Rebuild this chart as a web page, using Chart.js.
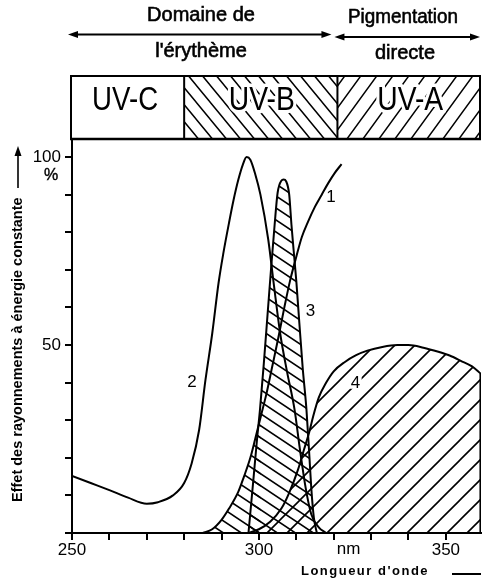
<!DOCTYPE html>
<html><head><meta charset="utf-8">
<script src="https://cdn.jsdelivr.net/npm/chart.js@4/dist/chart.umd.min.js"></script>
<style>html,body{margin:0;padding:0;background:#fff}</style>
</head><body>
<canvas id="c" width="482" height="580"></canvas>
<script>
// ---------- data ----------
const xMin = 250, xMax = 359.4, yMin = 0, yMax = 104.8;
const xTicks = [250,260,270,280,290,300,310,320,330,340,350];
const xTickLabels = {250:'250', 300:'300', 350:'350'};
const yTicks = [0,10,20,30,40,50,60,70,80,90,100];
const yTickLabels = {50:'50', 100:'100'};

// Curve 1
const curve1X = [285,287.5,290,292,294.5,296,297.7,299,300.5,302,303.5,305.2,306.8,308.3,310,311.5,313,315,316.8,318.5,320.3,322.1];
const curve1Y = [0,1,3.5,6.5,11,15,20,25,31,37,44,52,60,67,73.5,78.8,82.5,86.8,90,93,95.8,98.1];
const curve1HatchEnd = 300.5;

// Curve 2
const curve2X = [250,255,260,265,270,273,277,280,282,284,285.7,287.5,289.2,290.5,292,293.2,294.5,295.7,296.7,297.7,299,300.4,302.5,304,305.7,307.5,309.5,311,312.5,314,316,318];
const curve2Y = [15.2,13.3,11.4,9.4,7.8,8.2,10,13.3,18.5,27.4,40.7,53,66.5,74.5,82.5,88.5,94,98,100,99.3,95.5,90,78,66,53,43,33,22,12,5,1.5,0];

// Curve 3
const curve3X = [297.2,298.5,299.5,300.3,301.3,302.3,303.3,304.2,305,306,306.6,307.3,308.1,308.7,309.3,310,310.8,311.7,312.7,313.4,314,314.7,315.5];
const curve3Y = [0,14,25,33,45,58,71,82,90.5,93.7,94,93.5,90,82,75,67,56,44,33,22,12,4,0];

// Curve 4
const curve4X = [297,300,303,306,308,310.5,312,313.5,314.5,316,318,320,323,326,329,333,337,340,344,348,351,354,357,359.4];
const curve4Y = [0,1,3,6.5,10.5,17,22,27,31,36,40,43,45.5,47.3,48.5,49.5,50,50,49.3,48.2,47.2,45.8,44.3,42.3];
const curve4EdgeX = [359.25, 359.25];
const curve4EdgeY = [42.3, 0];

// curve number labels
const curveLabels = ['1','2','3','4'];
const curveLabelX = [319.3, 282.1, 313.8, 325.8];
const curveLabelY = [89.4, 40.2, 58.9, 39.8];

// header bands
const bandLabels = ['UV-C','UV-B','UV-A'];
const bandEdges = [250, 280, 321, 359.4];

// ---------- helpers ----------
function pts(xs, ys){ return xs.map((x,i)=>({x, y: ys[i]})); }
function makeHatch(w, h, dir, lw){
  const c = document.createElement('canvas'); c.width = w; c.height = h;
  const g = c.getContext('2d');
  g.strokeStyle = '#000'; g.lineWidth = lw;
  g.beginPath();
  for (const dx of [-w, 0, w]) {
    if (dir === 'back') { g.moveTo(dx - w, -h); g.lineTo(dx + 2*w, 2*h); }
    else { g.moveTo(dx - w, 2*h); g.lineTo(dx + 2*w, -h); }
  }
  g.stroke();
  return g.createPattern(c, 'repeat');
}
const hatch3 = makeHatch(18, 12, 'back', 1.6);
const hatch4 = makeHatch(20, 20, 'fwd', 1.6);
const hatchUVB = makeHatch(14, 17, 'back', 1.5);
const hatchUVA = makeHatch(16, 22, 'fwd', 1.5);

const FONT = "'Liberation Sans', Arial, sans-serif";

function arrow(ctx, x1, x2, y){
  ctx.beginPath(); ctx.moveTo(x1+6, y); ctx.lineTo(x2-6, y); ctx.stroke();
  ctx.beginPath(); ctx.moveTo(x1, y); ctx.lineTo(x1+10, y-3.5); ctx.lineTo(x1+10, y+3.5); ctx.closePath(); ctx.fill();
  ctx.beginPath(); ctx.moveTo(x2, y); ctx.lineTo(x2-10, y-3.5); ctx.lineTo(x2-10, y+3.5); ctx.closePath(); ctx.fill();
}
function haloText(ctx, t, x, y, w){
  ctx.save(); ctx.strokeStyle = '#fff'; ctx.lineWidth = 7; ctx.lineJoin = 'round';
  if (w) ctx.strokeText(t, x, y, w); else ctx.strokeText(t, x, y);
  ctx.restore();
  if (w) ctx.fillText(t, x, y, w); else ctx.fillText(t, x, y);
}

const decor = {
  id: 'decor',
  afterDraw(chart){
    const {ctx, chartArea: a, scales: {x, y}} = chart;
    ctx.save();
    ctx.fillStyle = '#000'; ctx.strokeStyle = '#000';
    // header box
    const top = 76, bot = a.top;
    const xb = bandEdges.map(v => x.getPixelForValue(v));
    ctx.fillStyle = hatchUVB; ctx.fillRect(xb[1], top, xb[2]-xb[1], bot-top);
    ctx.fillStyle = hatchUVA; ctx.fillRect(xb[2], top, xb[3]-xb[2], bot-top);
    ctx.fillStyle = '#000';
    ctx.lineWidth = 2;
    ctx.strokeRect(xb[0]-1, top, xb[3]-xb[0], bot-top);
    ctx.lineWidth = 2.5;
    ctx.beginPath(); ctx.moveTo(xb[0]-2, bot); ctx.lineTo(xb[3], bot); ctx.stroke();
    ctx.lineWidth = 2;
    ctx.beginPath();
    ctx.moveTo(xb[1], top); ctx.lineTo(xb[1], bot);
    ctx.moveTo(xb[2], top); ctx.lineTo(xb[2], bot);
    ctx.stroke();
    ctx.font = "33px 'Liberation Sans Narrow', 'Liberation Sans', sans-serif";
    ctx.textAlign = 'center'; ctx.textBaseline = 'middle';
    for (let i = 0; i < 3; i++) {
      const cx = i === 0 ? (xb[0]+xb[1])/2 - 3 : (xb[i]+xb[i+1])/2 + 1;
      haloText(ctx, bandLabels[i], cx, 101, 66);
    }
    // top arrows and texts
    ctx.lineWidth = 2;
    arrow(ctx, xb[0]-4, xb[2]-6, 34.5);
    arrow(ctx, xb[2]-3, 480, 37);
    ctx.font = "20px " + FONT;
    ctx.lineWidth = 0.6;
    const t = (s, cx, cy, w) => { ctx.fillText(s, cx, cy, w); ctx.strokeText(s, cx, cy, w); };
    t('Domaine de', 201, 15, 112);
    t("l'érythème", 201, 51, 100);
    t('Pigmentation', 403, 17, 110);
    t('directe', 405, 53, 78);

    // % under 100
    ctx.font = "16px " + FONT; ctx.lineWidth = 0.4;
    t('%', 51, y.getPixelForValue(100) + 19);

    // nm label
    ctx.font = "17px " + FONT;
    ctx.fillText('nm', x.getPixelForValue(324), 549);

    // x title
    ctx.font = "bold 13px " + FONT;
    ctx.letterSpacing = '1.5px';
    ctx.fillText("Longueur d'onde", 365, 571);
    ctx.letterSpacing = '0px';
    ctx.lineWidth = 2;
    ctx.beginPath(); ctx.moveTo(452, 574); ctx.lineTo(481, 574); ctx.stroke();

    // y title (rotated)
    ctx.save();
    ctx.translate(18, 502);
    ctx.rotate(-Math.PI/2);
    ctx.textAlign = 'left';
    ctx.font = "bold 14.5px " + FONT;
    ctx.fillText('Effet des rayonnements à énergie constante', 0, 0, 308);
    ctx.lineWidth = 1.6;
    ctx.beginPath(); ctx.moveTo(314, 0); ctx.lineTo(348, 0); ctx.stroke();
    ctx.beginPath(); ctx.moveTo(356, 0); ctx.lineTo(346, -3.5); ctx.lineTo(346, 3.5); ctx.closePath(); ctx.fill();
    ctx.restore();

    // curve labels
    ctx.font = "17px " + FONT;
    ctx.textAlign = 'center'; ctx.textBaseline = 'middle';
    ctx.lineWidth = 0.5;
    for (let i = 0; i < curveLabels.length; i++) {
      const px = x.getPixelForValue(curveLabelX[i]), py = y.getPixelForValue(curveLabelY[i]);
      if (i === 3) haloText(ctx, curveLabels[i], px, py);
      else ctx.fillText(curveLabels[i], px, py);
    }
    ctx.restore();
  }
};

const lineBase = {pointRadius: 0, borderColor: '#000', borderWidth: 2, tension: 0.4, cubicInterpolationMode: 'monotone'};
const c1 = pts(curve1X, curve1Y);

new Chart(document.getElementById('c'), {
  type: 'line',
  data: {
    datasets: [
      Object.assign({}, lineBase, {label: '4', data: pts(curve4X, curve4Y), fill: 'origin', backgroundColor: hatch4}),
      Object.assign({}, lineBase, {label: '4edge', data: pts(curve4EdgeX, curve4EdgeY), tension: 0, cubicInterpolationMode: 'default', fill: false}),
      Object.assign({}, lineBase, {label: '3', data: pts(curve3X, curve3Y), fill: 'origin', backgroundColor: hatch3}),
      Object.assign({}, lineBase, {label: '1tail', data: c1.filter(p => p.x <= curve1HatchEnd), borderWidth: 0, borderColor: 'rgba(0,0,0,0)', fill: 'origin', backgroundColor: hatch3}),
      Object.assign({}, lineBase, {label: '1', data: c1, fill: false}),
      Object.assign({}, lineBase, {label: '2', data: pts(curve2X, curve2Y), fill: false})
    ]
  },
  options: {
    responsive: false, animation: false, devicePixelRatio: 1,
    layout: {padding: {top: 139, right: 1, left: 0, bottom: 0}},
    plugins: {legend: {display: false}, tooltip: {enabled: false}},
    scales: {
      x: {
        type: 'linear', min: xMin, max: xMax,
        afterBuildTicks: s => { s.ticks = xTicks.map(v => ({value: v})); },
        afterFit: s => { s.height = 47; },
        ticks: {callback: v => xTickLabels[v] || '', autoSkip: false, maxRotation: 0, padding: 0,
                color: '#000', font: {family: FONT, size: 17}},
        grid: {drawOnChartArea: false, drawTicks: true, tickLength: 7, color: '#000', lineWidth: 2},
        border: {display: true, color: '#000', width: 2}
      },
      y: {
        type: 'linear', min: yMin, max: yMax,
        afterBuildTicks: s => { s.ticks = yTicks.map(v => ({value: v})); },
        afterFit: s => { s.width = 72; },
        ticks: {callback: v => yTickLabels[v] || '', autoSkip: false, padding: 4,
                color: '#000', font: {family: FONT, size: 17}},
        grid: {drawOnChartArea: false, drawTicks: true, tickLength: 7, color: '#000', lineWidth: 2},
        border: {display: true, color: '#000', width: 2}
      }
    }
  },
  plugins: [decor]
});
</script>
</body></html>
